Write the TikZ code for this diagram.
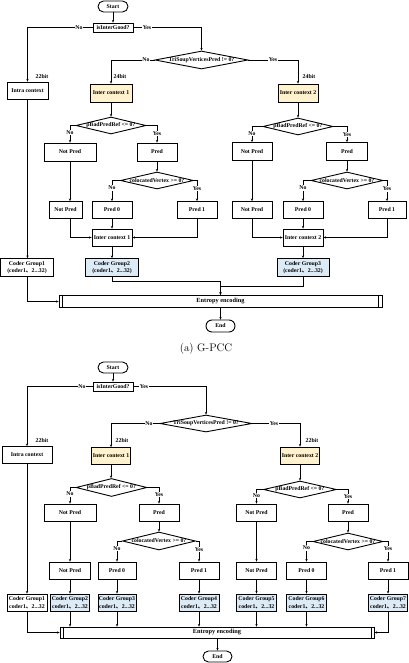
\documentclass[tikz,border=0pt]{standalone}
\usepackage{fontspec}
\newfontfamily\tnr{Liberation Serif}
\newfontfamily\cjk{Noto Sans CJK SC}
\usetikzlibrary{shapes.geometric,arrows.meta}
\definecolor{yel}{HTML}{FFF2CC}
\definecolor{blu}{HTML}{DDEBF7}
\newcommand\tf{\tnr\bfseries\fontsize{5.8}{7.5}\selectfont}
\newcommand\ef{\tnr\bfseries\fontsize{6.3}{7.5}\selectfont}
\newcommand\dn{{\cjk 、}}
\begin{document}
\begin{tikzpicture}[x=1pt,y=-1pt,
 bx/.style={draw,line width=0.9pt,inner sep=0pt,minimum height=17pt,font=\tf,align=center},
 term/.style={bx,rounded corners=5.5pt,minimum height=11pt,minimum width=30pt},
 dia/.style={diamond,draw,line width=0.9pt,inner sep=0pt},
 lb/.style={font=\tf,fill=white,inner sep=0.6pt},
 bt/.style={font=\tf,inner sep=0pt},
 ar/.style={line width=0.85pt,-{Stealth[length=2.6pt,width=2.4pt]}},
 ln/.style={line width=0.85pt}]
\useasboundingbox (0,0) rectangle (409,663);
% ================= (a) =================
\node[term] (s1) at (113,6.5) {Start};
\node[bx,minimum width=40pt,minimum height=9pt] (g1) at (113,27.5) {isInterGood?};
\node[bx,minimum width=41pt] (in1) at (27.5,90.5) {Intra context};
\node[dia,minimum width=93pt,minimum height=18pt] (t1) at (201.5,60) {};
\node[bt] (t1t) at (t1) {TriSoupVerticesPred != 0?};
\node[bx,fill=yel,minimum width=42pt,minimum height=18pt] (a1) at (111,93) {Inter context 1};
\node[bx,fill=yel,minimum width=40pt,minimum height=18pt] (b1) at (298,93) {Inter context 2};
\node[dia,minimum width=70pt,minimum height=17pt] (pa1) at (111,125.5) {};
\node[bt] (pa1t) at (pa1) {pBadPredRef <= 0?};
\node[dia,minimum width=70pt,minimum height=17pt] (pb1) at (298,126.5) {};
\node[bt] (pb1t) at (pb1) {pBadPredRef <= 0?};
\node[bx,minimum width=52pt,minimum height=18pt] (na1) at (70,152) {Not Pred};
\node[bx,minimum width=40pt,minimum height=18pt] (ra1) at (157,152) {Pred};
\node[bx,minimum width=40pt,minimum height=18pt] (nb1) at (252,151.5) {Not Pred};
\node[bx,minimum width=41pt,minimum height=18pt] (rb1) at (347,151.5) {Pred};
\node[dia,minimum width=73pt,minimum height=17pt] (ca1) at (157,180.5) {};
\node[bt] (ca1t) at (ca1) {colocatedVertex >= 0?};
\node[dia,minimum width=72pt,minimum height=17pt] (cb1) at (347,180.5) {};
\node[bt] (cb1t) at (cb1) {colocatedVertex >= 0?};
\node[bx,minimum width=33pt] (na1b) at (65.5,210) {Not Pred};
\node[bx,minimum width=40pt] (p0a1) at (112,210) {Pred 0};
\node[bx,minimum width=40pt] (p1a1) at (197,210) {Pred 1};
\node[bx,minimum width=40pt] (nb1b) at (252,210) {Not Pred};
\node[bx,minimum width=40pt] (p0b1) at (303,210) {Pred 0};
\node[bx,minimum width=38pt] (p1b1) at (387,210) {Pred 1};
\node[bx,minimum width=40pt] (ia1) at (112,237.5) {Inter context 1};
\node[bx,minimum width=40pt] (ib1) at (303,237.5) {Inter context 2};
\node[bx,minimum width=53pt,minimum height=18pt] (cg11) at (27,267.5) {Coder Group1\\(coder1\dn 2...32)};
\node[bx,fill=blu,minimum width=53pt,minimum height=18pt] (cg12) at (112,267.5) {Coder Group2\\(coder1\dn 2...32)};
\node[bx,fill=blu,minimum width=52pt,minimum height=18pt] (cg13) at (303,267.5) {Coder Group3\\(coder1\dn 2...32)};
\node[bx,font=\ef,minimum width=323pt,minimum height=12.5pt] (e1) at (220.5,301.5) {Entropy encoding};
\draw[ln] ([xshift=4pt]e1.north west) -- ([xshift=4pt]e1.south west);
\draw[ln] ([xshift=-4pt]e1.north east) -- ([xshift=-4pt]e1.south east);
\node[term,minimum width=29pt,minimum height=12pt,rounded corners=6pt] (z1) at (220.5,326) {End};
% connectors (a)
\draw[ar] (s1) -- (g1);
\draw[ar] (g1.west) -| (in1.north);
\node[lb] (l1) at (79,27.5) {No};
\draw[ar] (g1.east) -| (t1.north);
\node[lb] (l2) at (147,27.5) {Yes};
\draw[ar] (t1.west) -| (a1.north);
\node[lb] (l3) at (146,60) {No};
\draw[ar] (t1.east) -| (b1.north);
\node[lb] (l4) at (273,60) {Yes};
\node[bt] (k1) at (42,77) {22bit};
\node[bt] (k2) at (120,77) {24bit};
\node[bt] (k3) at (309,77) {24bit};
\draw[ar] (a1) -- (pa1);
\draw[ar] (b1) -- (pb1);
\draw[ar] (pa1.west) -| (na1.north);
\node[lb] (l5) at (70,132.5) {No};
\draw[ar] (pa1.east) -| (ra1.north);
\node[lb] (l6) at (157,133.5) {Yes};
\draw[ar] (pb1.west) -| (nb1.north);
\node[lb] (l7) at (252,133.5) {No};
\draw[ar] (pb1.east) -| (rb1.north);
\node[lb] (l8) at (347,134.5) {Yes};
\draw[ar] (na1.south) -- (na1.south |- na1b.north);
\draw[ar] (ra1) -- (ca1);
\draw[ar] (nb1) -- (nb1b);
\draw[ar] (rb1) -- (cb1);
\draw[ar] (ca1.west) -| (p0a1.north);
\node[lb] (l9) at (112,188) {No};
\draw[ar] (ca1.east) -| (p1a1.north);
\node[lb] (l10) at (197,188.5) {Yes};
\draw[ar] (cb1.west) -| (p0b1.north);
\node[lb] (l11) at (303,188) {No};
\draw[ar] (cb1.east) -| (p1b1.north);
\node[lb] (l12) at (387,189) {Yes};
\draw[ar] (na1b.south -| na1.south) |- (ia1.west);
\draw[ar] (p0a1) -- (ia1);
\draw[ar] (p1a1.south) |- (ia1.east);
\draw[ar] (nb1b.south) |- (ib1.west);
\draw[ar] (p0b1) -- (ib1);
\draw[ar] (p1b1.south) |- (ib1.east);
\draw[ar] (ia1) -- (cg12);
\draw[ar] (ib1) -- (cg13);
\draw[ar] (in1.south) -- (in1.south |- cg11.north);
\draw[ar] (cg11.south) |- (e1.west);
\coordinate (j1) at (112,281);
\coordinate (j2) at (303,286);
\draw[ar] (cg12.south) -- (j1) -| (e1.north);
\draw[ar] (cg13.south) -- (j2) -| (e1.north);
\draw[ar] (e1) -- (z1);
\node[font=\fontsize{11}{13}\selectfont,inner sep=0pt] (capa) at (206,349) {(a) G-PCC};
% ================= (b) =================
\node[term] (s2) at (113,367.5) {Start};
\node[bx,minimum width=40pt,minimum height=9pt] (g2) at (113,386.5) {isInterGood?};
\node[bx,minimum width=50pt] (in2) at (27,455) {Intra context};
\node[dia,minimum width=92pt,minimum height=17pt] (t2) at (206,423.5) {};
\node[bt] (t2t) at (t2) {TriSoupVerticesPred != 0?};
\node[bx,fill=yel,minimum width=39pt] (a2) at (111,456) {Inter context 1};
\node[bx,fill=yel,minimum width=39pt] (b2) at (300,455.5) {Inter context 2};
\node[dia,minimum width=71pt,minimum height=18pt] (pa2) at (111.5,487.5) {};
\node[bt] (pa2t) at (pa2) {pBadPredRef <= 0?};
\node[dia,minimum width=73pt,minimum height=17pt] (pb2) at (300,489.5) {};
\node[bt] (pb2t) at (pb2) {pBadPredRef <= 0?};
\node[bx,minimum width=52pt] (na2) at (70,512.5) {Not Pred};
\node[bx,minimum width=40pt] (ra2) at (159,512.5) {Pred};
\node[bx,minimum width=40pt] (nb2) at (256.5,512.5) {Not Pred};
\node[bx,minimum width=40pt] (rb2) at (348,512.5) {Pred};
\node[dia,minimum width=73pt,minimum height=18pt] (ca2) at (159,541) {};
\node[bt] (ca2t) at (ca2) {colocatedVertex >= 0?};
\node[dia,minimum width=70pt,minimum height=17pt] (cb2) at (348,541.5) {};
\node[bt] (cb2t) at (cb2) {colocatedVertex >= 0?};
\node[bx,minimum width=41pt] (na2b) at (70,570.5) {Not Pred};
\node[bx,minimum width=38pt] (p0a2) at (117,570.5) {Pred 0};
\node[bx,minimum width=40pt] (p1a2) at (199,570.5) {Pred 1};
\node[bx,minimum width=40pt] (nb2b) at (256.5,570.5) {Not Pred};
\node[bx,minimum width=40pt] (p0b2) at (306.5,570.5) {Pred 0};
\node[bx,minimum width=40pt] (p1b2) at (388,570.5) {Pred 1};
\node[bx,minimum width=40pt] (c21) at (27,602.5) {Coder Group1\\coder1\dn 2...32};
\node[bx,fill=blu,minimum width=39pt] (c22) at (70,602.5) {Coder Group2\\coder1\dn 2...32};
\node[bx,fill=blu,minimum width=38pt] (c23) at (117,602.5) {Coder Group3\\coder1\dn 2...32};
\node[bx,fill=blu,minimum width=40pt] (c24) at (199,602.5) {Coder Group4\\coder1\dn 2...32};
\node[bx,fill=blu,minimum width=40pt] (c25) at (256.5,602.5) {Coder Group5\\coder1\dn 2...32};
\node[bx,fill=blu,minimum width=40pt] (c26) at (306.5,602.5) {Coder Group6\\coder1\dn 2...32};
\node[bx,fill=blu,minimum width=39pt] (c27) at (388,602.5) {Coder Group7\\coder1\dn 2...32};
\node[bx,font=\ef,minimum width=314pt,minimum height=11pt] (e2) at (217,632.5) {Entropy encoding};
\draw[ln] ([xshift=3.5pt]e2.north west) -- ([xshift=3.5pt]e2.south west);
\draw[ln] ([xshift=-3.5pt]e2.north east) -- ([xshift=-3.5pt]e2.south east);
\node[term,minimum width=29pt,minimum height=11pt] (z2) at (217.5,656.5) {End};
% connectors (b)
\draw[ar] (s2) -- (g2);
\draw[ar] (g2.west) -| (in2.north);
\node[lb] (m1) at (82,386.5) {No};
\draw[ar] (g2.east) -| (t2.north);
\node[lb] (m2) at (144,386.5) {Yes};
\draw[ar] (t2.west) -| (a2.north);
\node[lb] (m3) at (149,423.5) {No};
\draw[ar] (t2.east) -| (b2.north);
\node[lb] (m4) at (274,423.5) {Yes};
\node[bt] (q1) at (42,441) {22bit};
\node[bt] (q2) at (122,441) {22bit};
\node[bt] (q3) at (312,441) {22bit};
\draw[ar] (a2.south) -- (a2.south |- pa2.north);
\draw[ar] (b2) -- (pb2);
\draw[ar] (pa2.west) -| (na2.north);
\node[lb] (m5) at (70,494) {No};
\draw[ar] (pa2.east) -| (ra2.north);
\node[lb] (m6) at (159,494.5) {Yes};
\draw[ar] (pb2.west) -| (nb2.north);
\node[lb] (m7) at (256.5,495.5) {No};
\draw[ar] (pb2.east) -| (rb2.north);
\node[lb] (m8) at (348,496.5) {Yes};
\draw[ar] (na2) -- (na2b);
\draw[ar] (ra2) -- (ca2);
\draw[ar] (nb2) -- (nb2b);
\draw[ar] (rb2) -- (cb2);
\draw[ar] (ca2.west) -| (p0a2.north);
\node[lb] (m9) at (117,548.5) {No};
\draw[ar] (ca2.east) -| (p1a2.north);
\node[lb] (m10) at (199,549.5) {Yes};
\draw[ar] (cb2.west) -| (p0b2.north);
\node[lb] (m11) at (306.5,548) {No};
\draw[ar] (cb2.east) -| (p1b2.north);
\node[lb] (m12) at (388,549) {Yes};
\draw[ar] (in2) -- (c21);
\draw[ar] (na2b) -- (c22);
\draw[ar] (p0a2) -- (c23);
\draw[ar] (p1a2) -- (c24);
\draw[ar] (nb2b) -- (c25);
\draw[ar] (p0b2) -- (c26);
\draw[ar] (p1b2) -- (c27);
\draw[ar] (c21.south) |- (e2.west);
\draw[ar] (c27.south) |- (e2.east);
\draw[ar] (c22.south) -- (c22.south |- e2.north);
\draw[ar] (c23.south) -- (c23.south |- e2.north);
\draw[ar] (c24.south) -- (c24.south |- e2.north);
\draw[ar] (c25.south) -- (c25.south |- e2.north);
\draw[ar] (c26.south) -- (c26.south |- e2.north);
\draw[ar] (e2.south -| z2.north) -- (z2.north);
\end{tikzpicture}
\end{document}
